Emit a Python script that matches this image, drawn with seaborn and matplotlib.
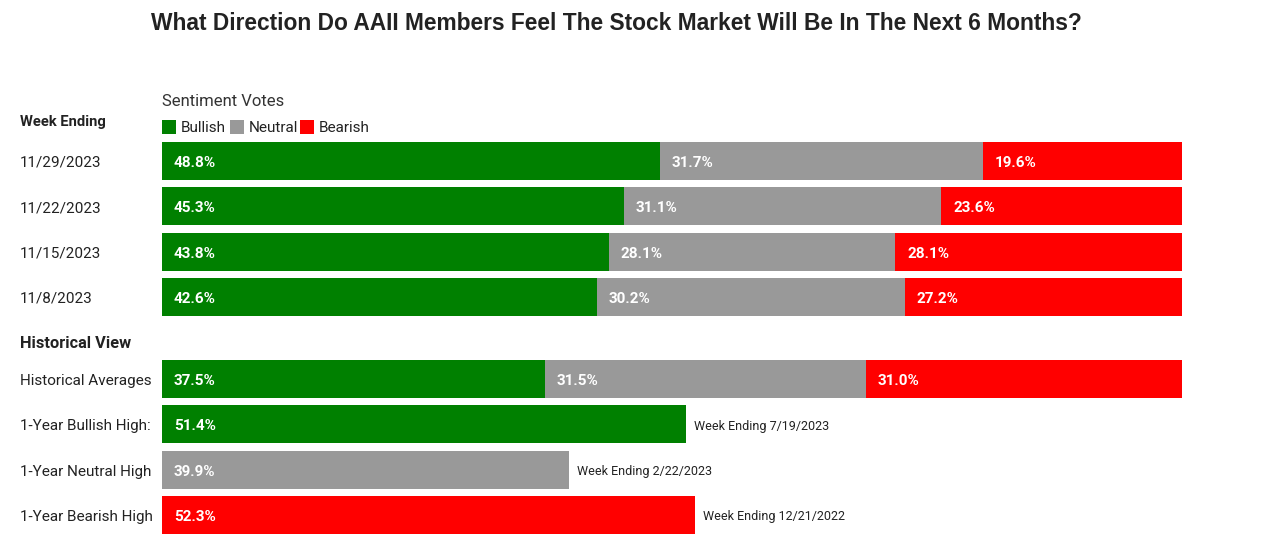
import matplotlib
matplotlib.use("Agg")
import matplotlib.pyplot as plt
import matplotlib.transforms as mtransforms
from matplotlib.patches import Rectangle
import seaborn as sns
import pandas as pd

# ---- data ----
weekly_labels = ["11/29/2023", "11/22/2023", "11/15/2023", "11/8/2023"]
weekly_bullish = [48.8, 45.3, 43.8, 42.6]
weekly_neutral = [31.7, 31.1, 28.1, 30.2]
weekly_bearish = [19.6, 23.6, 28.1, 27.2]

hist_avg_label = "Historical Averages"
hist_avg = [37.5, 31.5, 31.0]  # bullish, neutral, bearish

high_labels = ["1-Year Bullish High:", "1-Year Neutral High", "1-Year Bearish High"]
high_values = [51.4, 39.9, 52.3]
high_notes = ["Week Ending 7/19/2023", "Week Ending 2/22/2023", "Week Ending 12/21/2022"]
high_kinds = ["Bullish", "Neutral", "Bearish"]

title = "What Direction Do AAII Members Feel The Stock Market Will Be In The Next 6 Months?"
legend_title = "Sentiment Votes"
series_names = ["Bullish", "Neutral", "Bearish"]
colors = {"Bullish": "#008000", "Neutral": "#999999", "Bearish": "#ff0000"}

# ---- layout (row positions) ----
pitch = 45.33
hist_offset = 218 / pitch
pos_weekly = [0, 1, 2, 3]
pos_avg = hist_offset
pos_high = [hist_offset + 1, hist_offset + 2, hist_offset + 3]

stack_rows = weekly_labels + [hist_avg_label]
stack_pos = pos_weekly + [pos_avg]
bull = weekly_bullish + [hist_avg[0]]
neut = weekly_neutral + [hist_avg[1]]
bear = weekly_bearish + [hist_avg[2]]

# cumulative layers (drawn back-to-front)
layer_red = pd.DataFrame({"pos": stack_pos + [pos_high[2]],
                          "val": [b + n + r for b, n, r in zip(bull, neut, bear)] + [high_values[2]]})
layer_grey = pd.DataFrame({"pos": stack_pos + [pos_high[1]],
                           "val": [b + n for b, n in zip(bull, neut)] + [high_values[1]]})
layer_green = pd.DataFrame({"pos": stack_pos + [pos_high[0]],
                            "val": bull + [high_values[0]]})

W, H = 1280, 542
fig = plt.figure(figsize=(W / 100, H / 100), dpi=100)
fig.patch.set_facecolor("white")
ax = fig.add_axes([162 / W, 0, 1020 / W, 1])

for df, key in [(layer_red, "Bearish"), (layer_grey, "Neutral"), (layer_green, "Bullish")]:
    sns.barplot(data=df, x="val", y="pos", orient="y", native_scale=True,
                color=colors[key], width=38 / pitch, saturation=1, ax=ax, linewidth=0)

ax.set_xlim(0, 100)
top_y = -161 / pitch
bot_y = (H - 161) / pitch
ax.set_ylim(bot_y, top_y)
ax.axis("off")

ty = 2 / pitch  # small downward nudge for text centring
lab_font = "Roboto"
val_kw = dict(color="white", fontsize=11, fontweight="bold", family=lab_font, va="center", ha="left")
dx = 12 / 1020 * 100

# labels inside stacked bars
for p, b, n, r in zip(stack_pos, bull, neut, bear):
    ax.text(dx, p + ty, f"{b:.1f}%", **val_kw)
    ax.text(b + dx, p + ty, f"{n:.1f}%", **val_kw)
    ax.text(b + n + dx, p + ty, f"{r:.1f}%", **val_kw)

# single high bars
for p, v, note in zip(pos_high, high_values, high_notes):
    ax.text(dx, p + ty, f"{v:.1f}%", **val_kw)
    ax.text(v + 8 / 1020 * 100, p + ty, note, color="#222222", fontsize=9.0,
            family=lab_font, va="center", ha="left")

# left labels
trans = mtransforms.blended_transform_factory(fig.transFigure, ax.transData)
lx = 20 / W
for p, lab in zip(stack_pos + pos_high, stack_rows + high_labels):
    ax.text(lx, p + ty, lab, transform=trans, fontsize=11, family=lab_font, color="#222222",
            va="center", ha="left")

# section headings
fig.text(lx, 1 - 122 / H, "Week Ending", fontsize=10.6, fontweight="bold", family=lab_font,
         color="#222222", va="center", ha="left")
fig.text(lx, 1 - 344 / H, "Historical View", fontsize=11.8, fontweight="bold", family=lab_font,
         color="#222222", va="center", ha="left")

# legend
fig.text(162 / W, 1 - 102 / H, legend_title, fontsize=12, family=lab_font, color="#333333",
         va="center", ha="left")
leg_x = [162, 230, 300]
for x0, name in zip(leg_x, series_names):
    fig.patches.append(Rectangle((x0 / W, 1 - 134 / H), 14 / W, 14 / H, transform=fig.transFigure,
                                 facecolor=colors[name], edgecolor="none"))
    fig.text((x0 + 19) / W, 1 - 128 / H, name, fontsize=11, family=lab_font, color="#222222",
             va="center", ha="left")

fig.text(616 / W, 1 - 23 / H, title, fontsize=16.35, fontweight="bold", family="Liberation Sans",
         color="#222222", va="center", ha="center")

fig.savefig("out.png", dpi=100, facecolor="white")
